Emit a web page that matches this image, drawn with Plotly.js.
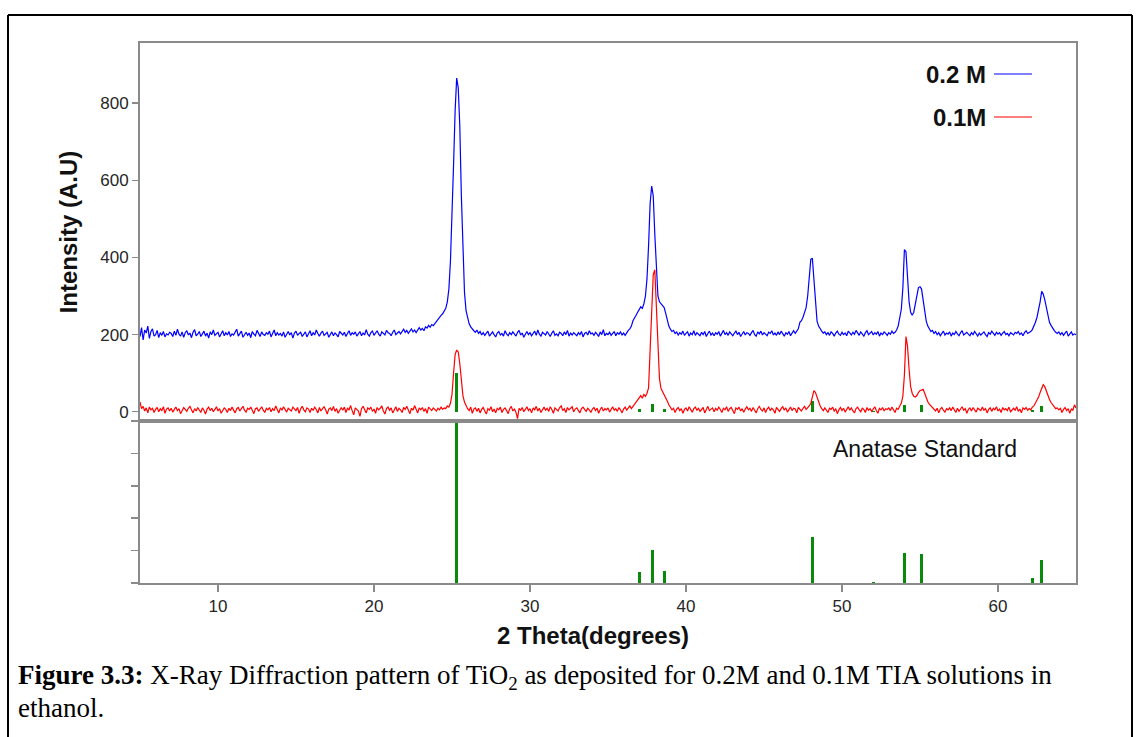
<!DOCTYPE html>
<html>
<head>
<meta charset="utf-8">
<script src="https://cdn.plot.ly/plotly-3.0.1.min.js"></script>
<style>
  html, body { margin: 0; padding: 0; background: #ffffff; }
  #chart { width: 1138px; height: 737px; }
</style>
</head>
<body>
<div id="chart"></div>
<script>
// ---- data: 2-theta grid (start / step) ----
const twoThetaStart = 5;
const twoThetaStep = 0.1;

// 0.2 M sample intensity, one row per degree (5.0 ... 64.9), then 65.0
const int02M = [
  195,218,186,212,204,222,190,208,215,196,
  200,211,192,205,198,208,194,202,199,206,
  203,195,209,198,214,201,196,207,193,205,
  210,199,204,192,206,213,197,201,208,195,
  202,209,196,204,191,207,200,212,198,203,
  206,194,203,210,197,205,199,208,195,202,
  199,207,214,196,203,209,193,201,206,198,
  204,192,208,201,197,211,203,195,207,200,
  198,205,201,209,194,203,212,197,205,199,
  203,196,207,193,202,208,199,205,191,204,
  209,198,203,206,195,201,207,194,203,210,
  197,205,199,212,203,196,204,209,198,202,
  206,193,201,207,197,204,200,194,208,203,
  199,206,195,203,210,198,205,201,207,196,
  202,208,197,204,199,213,201,196,205,209,
  198,204,210,201,196,207,203,199,211,205,
  203,197,206,212,200,205,208,202,207,214,
  206,211,203,209,215,207,212,205,210,218,
  212,216,210,220,217,224,219,226,223,229,
  234,238,245,250,254,262,268,285,318,390,
  500,640,780,865,840,740,560,400,310,262,
  240,228,220,214,210,206,212,203,208,199,
  205,198,203,209,196,202,207,200,194,204,
  208,199,203,196,210,202,197,205,200,207,
  201,196,206,211,199,204,193,202,208,200,
  205,197,203,209,198,212,201,196,206,202,
  199,208,203,195,204,210,198,202,197,206,
  203,197,207,200,211,196,204,199,205,201,
  197,205,200,208,194,203,206,199,210,202,
  204,198,206,201,195,207,200,213,197,203,
  200,206,198,203,208,197,205,201,207,199,
  204,198,206,211,215,222,236,242,250,258,
  266,272,268,280,300,345,430,540,585,560,
  460,360,300,285,280,278,270,255,238,222,
  214,208,211,203,207,199,205,201,209,198,
  203,207,196,204,200,210,198,205,201,197,
  206,200,208,195,203,209,199,204,197,205,
  201,208,196,203,211,200,205,198,207,202,
  197,204,209,200,206,195,203,208,199,205,
  203,198,205,211,200,196,207,202,209,199,
  205,201,197,206,203,210,199,204,198,207,
  200,209,203,196,205,201,208,197,204,210,
  203,208,215,232,236,245,258,270,300,350,
  395,398,350,280,235,222,214,209,204,207,
  200,205,198,207,203,196,204,209,201,198,
  206,200,204,197,209,203,199,206,201,211,
  204,198,207,202,196,205,210,200,203,208,
  199,205,201,208,196,204,200,207,203,198,
  205,201,209,203,206,212,222,240,265,320,
  420,415,340,285,258,250,258,280,310,322,
  324,318,290,255,235,222,214,208,211,203,
  208,200,205,197,203,209,199,204,201,207,
  196,204,200,208,202,197,205,210,199,203,
  206,201,197,205,200,208,203,196,204,199,
  203,207,200,195,205,201,209,203,198,206,
  201,205,198,204,208,200,203,197,205,202,
  199,206,203,208,200,204,197,205,210,203,
  205,208,213,222,232,245,262,285,312,305,
  290,270,250,232,224,216,211,206,203,207,
  200,205,198,204,209,196,203,207,199,202,
  200
];

// 0.1 M sample intensity, same grid
const int01M = [
  25,8,14,2,10,-3,12,5,9,-2,
  6,11,0,8,3,13,-4,7,10,2,
  9,-1,6,12,3,8,-5,4,11,6,
  1,9,14,5,-3,8,2,11,6,-2,
  10,4,-6,7,12,3,9,0,6,13,
  2,8,-4,5,10,6,-2,9,3,12,
  5,-3,8,11,2,7,14,4,-1,9,
  6,12,3,-5,8,10,1,7,13,4,
  -2,9,5,11,0,8,3,15,6,-3,
  10,4,13,7,-1,9,5,2,12,6,
  3,11,-4,8,14,5,0,10,7,-2,
  9,4,12,6,-3,11,2,8,13,5,
  -6,7,10,3,14,1,8,-4,6,11,
  4,12,-2,9,5,16,3,-8,10,6,
  2,-12,8,14,4,-3,10,6,12,1,
  7,-4,11,5,9,15,2,-6,8,12,
  4,10,-3,7,13,1,9,5,-2,11,
  6,14,2,-5,9,4,16,7,-3,10,
  5,11,1,8,-4,12,6,3,10,7,
  2,9,5,12,6,10,8,15,12,22,
  45,100,148,160,155,125,78,42,25,15,
  8,3,12,-4,7,10,1,9,-3,6,
  11,2,-6,8,4,13,0,7,-3,9,
  5,12,-2,6,10,3,-5,8,14,2,
  7,-1,-18,9,4,11,0,6,13,3,
  8,-3,10,5,14,2,9,-2,6,12,
  4,9,1,13,6,-4,10,7,2,11,
  15,3,8,-2,11,5,9,13,0,7,
  10,4,-3,8,12,6,1,9,5,-2,
  7,11,3,9,-4,6,12,2,8,5,
  10,-1,6,13,4,8,1,11,5,-3,
  7,12,4,9,15,8,14,20,25,32,
  38,42,35,45,40,48,62,150,280,355,
  368,270,150,85,60,52,48,38,28,18,
  12,5,9,-2,7,11,3,8,-4,6,
  10,2,13,5,-1,8,12,4,9,1,
  6,11,-3,8,14,3,7,10,0,9,
  4,12,6,-2,9,5,13,1,8,11,
  3,-5,10,6,12,2,8,-1,7,13,
  5,9,1,11,4,-3,8,14,6,2,
  10,-2,7,12,3,9,5,-4,11,6,
  1,8,13,4,10,-1,6,12,3,9,
  7,-3,11,5,2,9,14,6,10,15,
  22,38,55,50,38,25,15,8,3,10,
  4,-2,9,6,12,1,8,-5,5,11,
  3,9,-1,7,13,4,10,2,-3,8,
  12,5,0,9,6,-2,11,4,8,1,
  7,13,3,-4,9,5,11,2,8,6,
  10,3,12,5,-2,9,6,15,22,40,
  95,195,170,110,65,48,40,38,42,50,
  55,56,58,48,35,26,20,15,10,8,
  2,9,-3,7,11,4,-1,8,5,10,
  3,12,6,-2,9,1,7,13,4,8,
  -4,6,10,2,11,5,-1,9,7,3,
  12,4,8,-3,6,10,1,9,5,13,
  2,7,-2,11,5,8,3,12,0,6,
  9,4,13,1,7,-3,10,6,11,4,
  8,5,12,15,22,28,38,50,62,70,
  65,52,40,32,24,18,12,8,10,5,
  9,-2,6,11,3,8,-4,7,4,18,
  10
];

// Anatase standard reflections
const anataseTwoTheta = [25.3, 37.0, 37.85, 38.6, 48.1, 52.0, 54.0, 55.1, 62.2, 62.8];
const anataseIntensity = [100, 6.6, 20.4, 7.4, 28.6, 0.8, 18.3, 18.1, 3.3, 14.2];

const yTickVals = [0, 200, 400, 600, 800];
const xTickVals = [10, 20, 30, 40, 50, 60];
const seriesNames = ["0.2 M", "0.1M"];

// ---- styling ----
const axisGrey = "#8a8a8a";
const tickFont = {family: "Liberation Sans, Arial, sans-serif", size: 17, color: "#262626"};
const titleFont = {family: "Liberation Sans, Arial, sans-serif", size: 24, color: "#111111", weight: "bold"};

const traces = [
  {type: "scatter", mode: "lines", name: seriesNames[0],
   x0: twoThetaStart, dx: twoThetaStep, y: int02M,
   xaxis: "x2", yaxis: "y", line: {color: "#0000ff", width: 1.2}, showlegend: false},
  {type: "scatter", mode: "lines", name: seriesNames[1],
   x0: twoThetaStart, dx: twoThetaStep, y: int01M,
   xaxis: "x2", yaxis: "y", line: {color: "#ff0000", width: 1.2}, showlegend: false},
  {type: "bar", name: "Anatase (upper)", x: anataseTwoTheta, y: anataseIntensity,
   width: 0.2, xaxis: "x2", yaxis: "y", marker: {color: "#0a8a0a", line: {width: 0}}, showlegend: false},
  {type: "bar", name: "Anatase Standard", x: anataseTwoTheta, y: anataseIntensity,
   width: 0.2, xaxis: "x", yaxis: "y2", marker: {color: "#0a8a0a", line: {width: 0}}, showlegend: false}
];

function px2x(p) { return (p - 140) / 936; }
function px2y(p) { return (583 - p) / 540; }

const layout = {
  width: 1138, height: 737,
  margin: {l: 140, r: 62, t: 43, b: 154, pad: 0},
  paper_bgcolor: "#ffffff", plot_bgcolor: "#ffffff",
  showlegend: false,
  bargap: 0,
  xaxis: {
    domain: [0, 1], anchor: "y2", range: [5, 65],
    tickmode: "array", tickvals: xTickVals,
    ticks: "outside", ticklen: 7, tickwidth: 1.5, tickcolor: axisGrey,
    showline: true, linecolor: axisGrey, linewidth: 2, mirror: true,
    showgrid: false, zeroline: false, tickfont: tickFont
  },
  yaxis2: {
    domain: [0, 0.3], anchor: "x", range: [0, 100],
    tickmode: "array", tickvals: [0, 20, 40, 60, 80, 100],
    ticks: "outside", ticklen: 7, tickwidth: 1.5, tickcolor: axisGrey,
    showticklabels: false,
    showline: true, linecolor: axisGrey, linewidth: 2, mirror: true,
    showgrid: false, zeroline: false
  },
  xaxis2: {
    domain: [0, 1], anchor: "y", range: [5, 65], matches: "x",
    ticks: "", showticklabels: false,
    showline: true, linecolor: axisGrey, linewidth: 2, mirror: true,
    showgrid: false, zeroline: false
  },
  yaxis: {
    domain: [0.3, 1], anchor: "x2", range: [-24, 956],
    tickmode: "array", tickvals: yTickVals,
    ticks: "outside", ticklen: 6, tickwidth: 1.5, tickcolor: axisGrey,
    showline: true, linecolor: axisGrey, linewidth: 2, mirror: true,
    showgrid: false, zeroline: false, tickfont: tickFont,
    title: {text: "Intensity (A.U)", font: titleFont, standoff: 16}
  },
  annotations: [
    {xref: "paper", yref: "paper", x: px2x(593), y: px2y(635), xanchor: "center", yanchor: "middle",
     text: "<b>2 Theta(degrees)</b>", showarrow: false,
     font: {family: "Liberation Sans, Arial, sans-serif", size: 24, color: "#111111"}},
    {xref: "paper", yref: "paper", x: px2x(988), y: px2y(75), xanchor: "right", yanchor: "middle",
     text: "<b>" + seriesNames[0] + "</b>", showarrow: false,
     font: {family: "Liberation Sans, Arial, sans-serif", size: 24, color: "#111111"}},
    {xref: "paper", yref: "paper", x: px2x(988), y: px2y(118), xanchor: "right", yanchor: "middle",
     text: "<b>" + seriesNames[1] + "</b>", showarrow: false,
     font: {family: "Liberation Sans, Arial, sans-serif", size: 24, color: "#111111"}},
    {xref: "paper", yref: "paper", x: px2x(925), y: px2y(449), xanchor: "center", yanchor: "middle",
     text: "Anatase Standard", showarrow: false,
     font: {family: "Liberation Sans, Arial, sans-serif", size: 23, color: "#111111"}},
    {xref: "paper", yref: "paper", x: px2x(16), y: px2y(677), xanchor: "left", yanchor: "middle",
     text: "<b>Figure 3.3:</b> X-Ray Diffraction pattern of TiO<sub>2</sub> as deposited for 0.2M and 0.1M TIA solutions in",
     showarrow: false, align: "left",
     font: {family: "Liberation Serif, Times New Roman, serif", size: 27, color: "#000000"}},
    {xref: "paper", yref: "paper", x: px2x(16), y: px2y(708), xanchor: "left", yanchor: "middle",
     text: "ethanol.", showarrow: false, align: "left",
     font: {family: "Liberation Serif, Times New Roman, serif", size: 27, color: "#000000"}}
  ],
  shapes: [
    // legend line samples
    {type: "line", xref: "paper", yref: "paper", x0: px2x(994), x1: px2x(1032), y0: px2y(74), y1: px2y(74),
     line: {color: "#0000ff", width: 1.2}},
    {type: "line", xref: "paper", yref: "paper", x0: px2x(994), x1: px2x(1032), y0: px2y(117), y1: px2y(117),
     line: {color: "#ff0000", width: 1.2}},
    // outer figure frame
    {type: "line", xref: "paper", yref: "paper", x0: px2x(8), x1: px2x(8), y0: px2y(15), y1: px2y(745),
     line: {color: "#000000", width: 2}},
    {type: "line", xref: "paper", yref: "paper", x0: px2x(8), x1: px2x(1132), y0: px2y(15), y1: px2y(15),
     line: {color: "#000000", width: 2}},
    {type: "line", xref: "paper", yref: "paper", x0: px2x(1132), x1: px2x(1132), y0: px2y(15), y1: px2y(745),
     line: {color: "#000000", width: 2}}
  ]
};

Plotly.newPlot("chart", traces, layout, {displayModeBar: false, staticPlot: true});
</script>
</body>
</html>
